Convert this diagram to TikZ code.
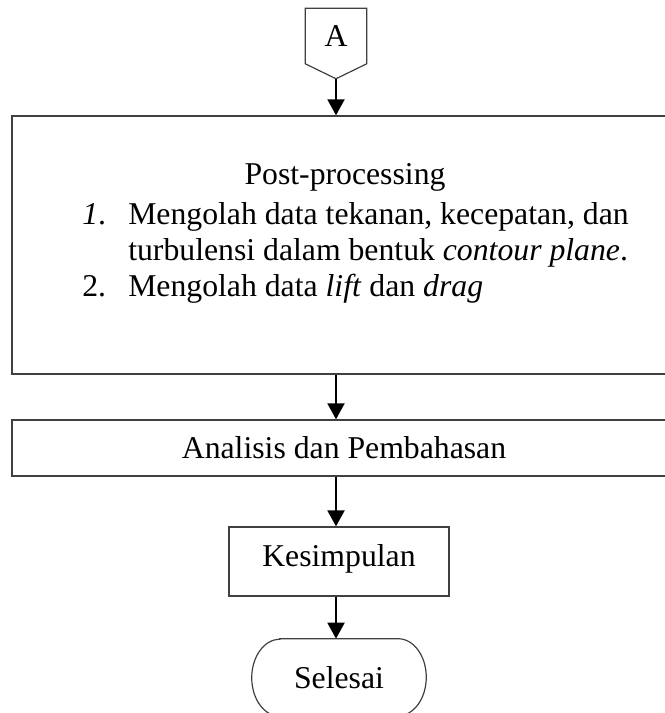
\documentclass[tikz,border=0pt]{standalone}
\usepackage{fontspec}
\setmainfont{Liberation Serif}
\usetikzlibrary{calc,arrows.meta}

\tikzset{
	outline/.style={draw=black!75, line width=0.9pt},
	box/.style={outline, inner sep=0pt, font=\fontsize{23.8}{27}\selectfont},
	txt/.style={inner sep=0pt, font=\fontsize{23.8}{27}\selectfont},
	arr/.style={line width=2.2pt, -{Triangle[length=12pt,width=12.5pt]}},
}

\begin{document}
\begin{tikzpicture}[x=0.75pt, y=-0.75pt]
			%%%%% START %%%%%
			\useasboundingbox (0,0) rectangle (664,713);
			
			% off-page connector
			\node[txt, minimum width=45.75pt, minimum height=41.25pt] (conA) at (336,36) {A};
			\draw[outline] (conA.north west) -- (conA.north east) -- (conA.south east) -- ($(conA.south)+(0,15)$) coordinate (conAtip) -- (conA.south west) -- cycle;
			
			% post-processing
			\node[box, minimum width=498pt, minimum height=193.5pt] (post) at (344,245) {};
			\node[txt, anchor=base] (ttl) at (345,184) {Post-processing};
			\node[txt, anchor=base west] (n1) at (82,224) {\textit{1}.};
			\node[txt, anchor=base west] (i1a) at (128,224) {Mengolah data tekanan, kecepatan, dan};
			\node[txt, anchor=base west] (i1b) at (128,260) {turbulensi dalam bentuk \textit{contour plane}.};
			\node[txt, anchor=base west] (n2) at (82,296) {2.};
			\node[txt, anchor=base west] (i2) at (128,296) {Mengolah data \textit{lift} dan \textit{drag}};
			
			\node[box, minimum width=498pt, minimum height=42pt] (anl) at (344,448) {Analisis dan Pembahasan};
			\node[box, minimum width=165pt, minimum height=51.75pt, text height=15pt, text depth=8pt] (kes) at (339,561.5) {Kesimpulan};
			
			% terminal
			\node[txt, minimum width=130.5pt, minimum height=57.75pt] (sls) at (339,677.5) {Selesai};
			\draw[outline] ($(sls.north west)+(28,0)$) -- ($(sls.north east)+(-28,0)$) arc[start angle=90, end angle=-90, x radius=21pt, y radius=28.875pt] -- ($(sls.south west)+(28,0)$) arc[start angle=270, end angle=90, x radius=21pt, y radius=28.875pt] -- cycle;
			
			\draw[arr] (conAtip) -- (post.north -| conAtip);
			\draw[arr] (post.south -| conAtip) -- (anl.north -| conAtip);
			\draw[arr] (anl.south -| conAtip) -- (kes.north -| conAtip);
			\draw[arr] (kes.south -| conAtip) -- (sls.north -| conAtip);
			
			%%%%% END %%%%%
\end{tikzpicture}
\end{document}
